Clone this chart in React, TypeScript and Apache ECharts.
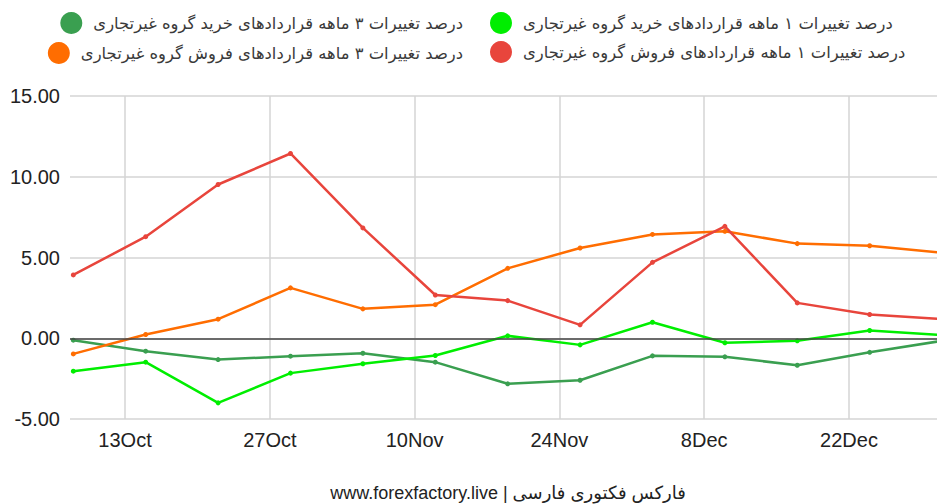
import React, { useEffect, useRef } from "react";
import * as echarts from "echarts";

const dates = [
  "2023-10-08", "2023-10-15", "2023-10-22", "2023-10-29", "2023-11-05", "2023-11-12",
  "2023-11-19", "2023-11-26", "2023-12-03", "2023-12-10", "2023-12-17", "2023-12-24", "2023-12-31",
];

const buy1m = [-2.04, -1.48, -4.0, -2.16, -1.58, -1.07, 0.15, -0.41, 0.99, -0.28, -0.16, 0.48, 0.19];
const buy3m = [-0.12, -0.8, -1.32, -1.11, -0.93, -1.48, -2.82, -2.6, -1.09, -1.15, -1.67, -0.87, -0.16];
const sell1m = [3.92, 6.29, 9.52, 11.44, 6.83, 2.68, 2.33, 0.83, 4.7, 6.93, 2.19, 1.47, 1.18];
const sell3m = [-0.97, 0.23, 1.18, 3.12, 1.82, 2.08, 4.33, 5.59, 6.43, 6.62, 5.86, 5.73, 5.29];

const tickDates = ["2023-10-13", "2023-10-27", "2023-11-10", "2023-11-24", "2023-12-08", "2023-12-22"];
const tickLabels = ["13Oct", "27Oct", "10Nov", "24Nov", "8Dec", "22Dec"];

const yTicks = [-5, 0, 5, 10, 15];

const nameBuy1 = "درصد تغییرات ۱ ماهه قراردادهای خرید گروه غیرتجاری";
const nameBuy3 = "درصد تغییرات ۳ ماهه قراردادهای خرید گروه غیرتجاری";
const nameSell1 = "درصد تغییرات ۱ ماهه قراردادهای فروش گروه غیرتجاری";
const nameSell3 = "درصد تغییرات ۳ ماهه قراردادهای فروش گروه غیرتجاری";

const footer = "www.forexfactory.live | فارکس فکتوری فارسی";

const DAY = 86400000;
const ts = (s: string) => {
  const [y, m, d] = s.split("-").map(Number);
  return Date.UTC(y, m - 1, d);
};

export default function App() {
  const ref = useRef<HTMLDivElement>(null);
  useEffect(() => {
    if (!ref.current) return;
    const chart = echarts.init(ref.current, undefined, { renderer: "svg" });
    const xs = dates.map(ts);
    const tickTs = tickDates.map(ts);
    const pair = (arr: number[]) => arr.map((v, i) => [xs[i], v]);
    const legendFont = { fontFamily: "DejaVu Sans", fontSize: 16.4, color: "#3a3a3a", padding: [0, 0, 0, 6] };
    const legendBase = {
      icon: "circle",
      itemWidth: 22,
      itemHeight: 22,
      selectedMode: false,
      textStyle: legendFont,
      padding: 0,
    };
    const lineBase = {
      type: "line" as const,
      symbol: "circle",
      symbolSize: 5,
      lineStyle: { width: 2.5 },
      clip: true,
    };
    chart.setOption({
      animation: false,
      backgroundColor: "#fff",
      grid: { left: 70, right: 0, top: 96, bottom: 85, containLabel: false, outerBoundsMode: "none" },
      legend: [
        { ...legendBase, data: [nameBuy1], left: 490, top: 12 },
        { ...legendBase, data: [nameSell1], left: 490, top: 41 },
        { ...legendBase, data: [nameBuy3], right: 474, top: 12 },
        { ...legendBase, data: [nameSell3], right: 474, top: 42 },
      ],
      xAxis: {
        type: "value",
        min: ts("2023-10-13") - 5.32 * DAY,
        max: ts("2023-10-13") + 78.51 * DAY,
        axisLine: { show: false },
        axisTick: { show: false, customValues: tickTs },
        axisLabel: {
          customValues: tickTs,
          formatter: (v: number) => {
            const i = tickTs.indexOf(v);
            return i >= 0 ? tickLabels[i] : "";
          },
          fontFamily: "Liberation Sans, Arial, sans-serif",
          fontSize: 20,
          color: "#222",
          margin: 11,
        },
        splitLine: { show: true, lineStyle: { color: "#d4d4d4", width: 1.5 } },
      },
      yAxis: {
        type: "value",
        min: yTicks[0],
        max: yTicks[yTicks.length - 1],
        interval: 5,
        axisLine: { show: false },
        axisTick: { show: false },
        axisLabel: {
          formatter: (v: number) => v.toFixed(2),
          fontFamily: "Liberation Sans, Arial, sans-serif",
          fontSize: 20,
          color: "#222",
          margin: 10,
        },
        splitLine: { show: true, lineStyle: { color: "#d4d4d4", width: 1.5 } },
      },
      series: [
        {
          ...lineBase,
          name: nameBuy3,
          data: pair(buy3m),
          itemStyle: { color: "#3a9f50" },
          markLine: {
            silent: true,
            symbol: "none",
            label: { show: false },
            lineStyle: { color: "#444", width: 1.5, type: "solid" },
            data: [{ yAxis: 0 }],
          },
        },
        { ...lineBase, name: nameBuy1, data: pair(buy1m), itemStyle: { color: "#00ee00" } },
        { ...lineBase, name: nameSell3, data: pair(sell3m), itemStyle: { color: "#ff6d01" } },
        { ...lineBase, name: nameSell1, data: pair(sell1m), itemStyle: { color: "#e8453c" } },
      ],
      graphic: [
        {
          type: "text",
          x: 508,
          y: 493,
          style: {
            text: footer,
            fontFamily: "Liberation Sans, DejaVu Sans, sans-serif",
            fontSize: 18,
            fill: "#222",
            textAlign: "center",
            textVerticalAlign: "middle",
          },
        },
      ],
    });
    return () => chart.dispose();
  }, []);
  return (
    <div
      ref={ref}
      style={{ position: "fixed", left: 0, top: 0, width: 937, height: 504, background: "#fff" }}
    />
  );
}
